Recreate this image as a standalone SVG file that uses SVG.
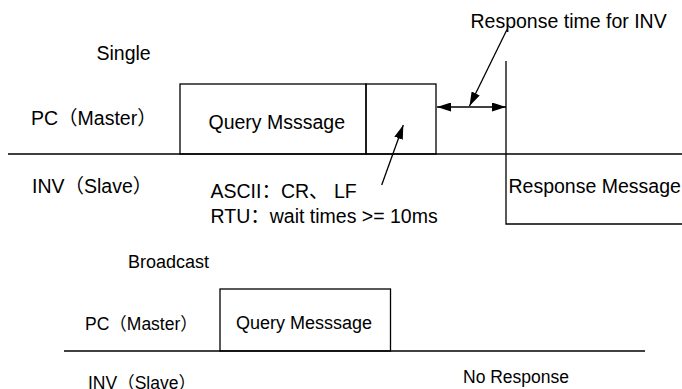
<svg xmlns="http://www.w3.org/2000/svg" width="682" height="389" viewBox="0 0 682 389">
  <defs>
    <style>
      .ln { fill: none; stroke: #000; stroke-width: 1.3; }
      .t { font-family: "Liberation Sans", "Noto Sans CJK SC", Arial, sans-serif; fill: #000; }
      .big { font-size: 19.5px; }
      .sm { font-size: 17.5px; }
    </style>
    <marker id="ah" viewBox="0 0 14 9" markerWidth="14" markerHeight="9" refX="14" refY="4.5" orient="auto-start-reverse" markerUnits="userSpaceOnUse">
      <path d="M0,0 L14,4.5 L0,9 z" fill="#000"/>
    </marker>
  </defs>
  <rect width="682" height="389" fill="#fff"/>

  <!-- Single section -->
  <g id="single-labels">
    <text class="t big" x="96.5" y="60">Single</text>
    <text class="t big" x="31" y="125">PC（Master）</text>
    <text class="t big" x="32" y="193">INV（Slave）</text>
  </g>
  <g id="query-box">
    <rect class="ln" x="180" y="84" width="186" height="70"/>
    <text class="t big" x="208.5" y="128.5">Query Msssage</text>
  </g>
  <g id="crlf-box">
    <rect class="ln" x="366" y="84" width="70" height="70"/>
  </g>
  <g id="crlf-note">
    <text class="t big" x="210.5" y="198">ASCII：CR、 LF</text>
    <text class="t big" x="210.5" y="223">RTU：wait times &gt;= 10ms</text>
  </g>
  <g id="response-time-label">
    <text class="t big" x="470.5" y="28">Response time for INV</text>
  </g>
  <g id="response-message">
    <path class="ln" d="M506,61 V224 H682"/>
    <text class="t big" x="508.5" y="192.5">Response Message</text>
  </g>

  <!-- Broadcast section -->
  <g id="broadcast-labels">
    <text class="t" font-size="18" x="128" y="268">Broadcast</text>
    <text class="t sm" x="85" y="330">PC（Master）</text>
    <text class="t sm" x="88" y="389">INV（Slave）</text>
    <text class="t sm" x="463" y="383">No Response</text>
  </g>
  <g id="broadcast-query-box">
    <rect class="ln" x="220" y="289" width="170.5" height="62"/>
    <text class="t" font-size="18" x="236" y="329">Query Messsage</text>
  </g>

  <g id="connectors">
    <line class="ln" x1="8" y1="154" x2="682" y2="154"/>
    <line class="ln" x1="64" y1="351" x2="645" y2="351"/>
    <line class="ln" x1="381.7" y1="185" x2="403.3" y2="125" marker-end="url(#ah)"/>
    <line class="ln" x1="437" y1="107" x2="506" y2="107" marker-start="url(#ah)" marker-end="url(#ah)"/>
    <line class="ln" x1="507" y1="29.5" x2="469.5" y2="106" marker-end="url(#ah)"/>
  </g>
</svg>
